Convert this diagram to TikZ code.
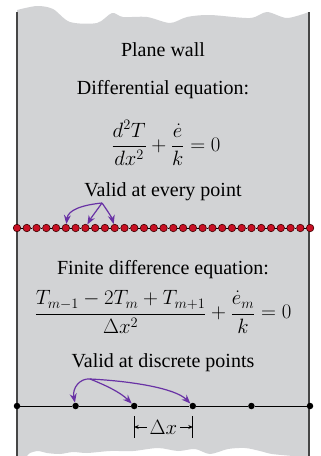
\documentclass[tikz,border=0pt]{standalone}
\usepackage{fontspec}
\setmainfont{Liberation Serif}
\usepackage{tikz}
\usetikzlibrary{arrows.meta, positioning, calc}
\definecolor{wallgray}{RGB}{210,211,213}
\definecolor{walledge}{RGB}{70,70,70}
\definecolor{pickpurple}{RGB}{105,50,165}
\definecolor{nodered}{RGB}{200,16,36}

\begin{document}
\begin{tikzpicture}[
  x=1pt, y=-1pt,
  txt/.style  = {font=\fontsize{20}{24}\selectfont, inner sep=0pt},
  rdot/.style = {circle, fill=nodered, draw=black!75!red, line width=0.6pt,
                 inner sep=0pt, minimum size=7.5pt},
  bdot/.style = {circle, fill=black, inner sep=0pt, minimum size=6.5pt},
  pick/.style = {-{Stealth[length=9pt,width=7pt]}, line width=1.2pt, pickpurple},
  gap/.style  = {-{Stealth[length=4.5pt,width=4pt]}, line width=0.7pt},
]
  \useasboundingbox (0,0) rectangle (321,456);

  % wall with torn edges
  \fill[wallgray] plot[smooth] coordinates {(17,10) (37,6) (53,9) (70,22) (97,23)
      (112,13) (123,17) (147,17) (170,23) (187,17) (210,15) (250,18) (267,12)
      (287,18) (309,12)}
    -- (309,456) -- plot[smooth] coordinates {(293,456) (272,454) (260,451)
      (245,448) (228,449) (210,454) (195,449) (178,451) (158,448) (133,451)
      (110,451) (87,453) (73,452) (60,454) (47,453) (38,451) (30,453) (27,456)}
    -- (17,456) -- cycle;
  \draw[walledge, line width=1.5pt] (17,12) -- (17,456);
  \draw[walledge, line width=1.5pt] (309,12) -- (309,456);

  % texts
  \node[txt] (title)    at (163,50)  {Plane wall};
  \node[txt] (diffhead) at (163,90)  {Differential equation:};
  \node[txt] (diffeq)   at (166,143) {$\displaystyle \frac{d^2T}{dx^2} + \frac{\dot e}{k} = 0$};
  \node[txt] (everypt)  at (163,192) {Valid at every point};
  \node[txt] (fdhead)   at (163,270) {Finite difference equation:};
  \node[txt] (fdeq)     at (163,312) {$\displaystyle \frac{T_{m-1} - 2T_m + T_{m+1}}{\Delta x^2} + \frac{\dot e_m}{k} = 0$};
  \node[txt] (discpt)   at (163,363) {Valid at discrete points};

  % continuous points
  \foreach \i in {0,...,30}
    \node[rdot] (r\i) at ({17+9.77*\i},228) {};
  \foreach \i [evaluate=\i as \j using int(\i+1)] in {0,...,29}
    \draw[line width=0.6pt] (r\i) -- (r\j);

  % discrete points
  \foreach \i in {0,...,5}
    \node[bdot] (p\i) at ({17+58.6*\i},406) {};
  \foreach \i [evaluate=\i as \j using int(\i+1)] in {0,...,4}
    \draw[line width=0.8pt] (p\i) -- (p\j);

  % arrows to the points
  \coordinate (fromevery) at (102,203);
  \draw[pick] (fromevery) .. controls (82,205) and (68,210) .. (r5);
  \draw[pick] (fromevery) .. controls (97,210) and (91,218) .. (r7);
  \draw[pick] (fromevery) .. controls (107,210) and (112,218) .. (r10);

  \coordinate (fromdisc) at (90,379);
  \draw[pick] (fromdisc) .. controls (80,378) and (72,388) .. (p1);
  \draw[pick] (fromdisc) .. controls (105,385) and (120,392) .. (p2);
  \draw[pick] (fromdisc) .. controls (130,381) and (175,388) .. (p3);

  % spacing mark
  \node[txt, inner xsep=3pt] (dxlab) at (163.5,427) {$\Delta x$};
  \coordinate (tl) at (134.2,427);
  \coordinate (tr) at (192.8,427);
  \draw[line width=0.8pt] ($(tl)+(0,-11)$) -- ($(tl)+(0,11)$);
  \draw[line width=0.8pt] ($(tr)+(0,-11)$) -- ($(tr)+(0,11)$);
  \draw[gap] (dxlab) -- (tl);
  \draw[gap] (dxlab) -- (tr);
\end{tikzpicture}
\end{document}
